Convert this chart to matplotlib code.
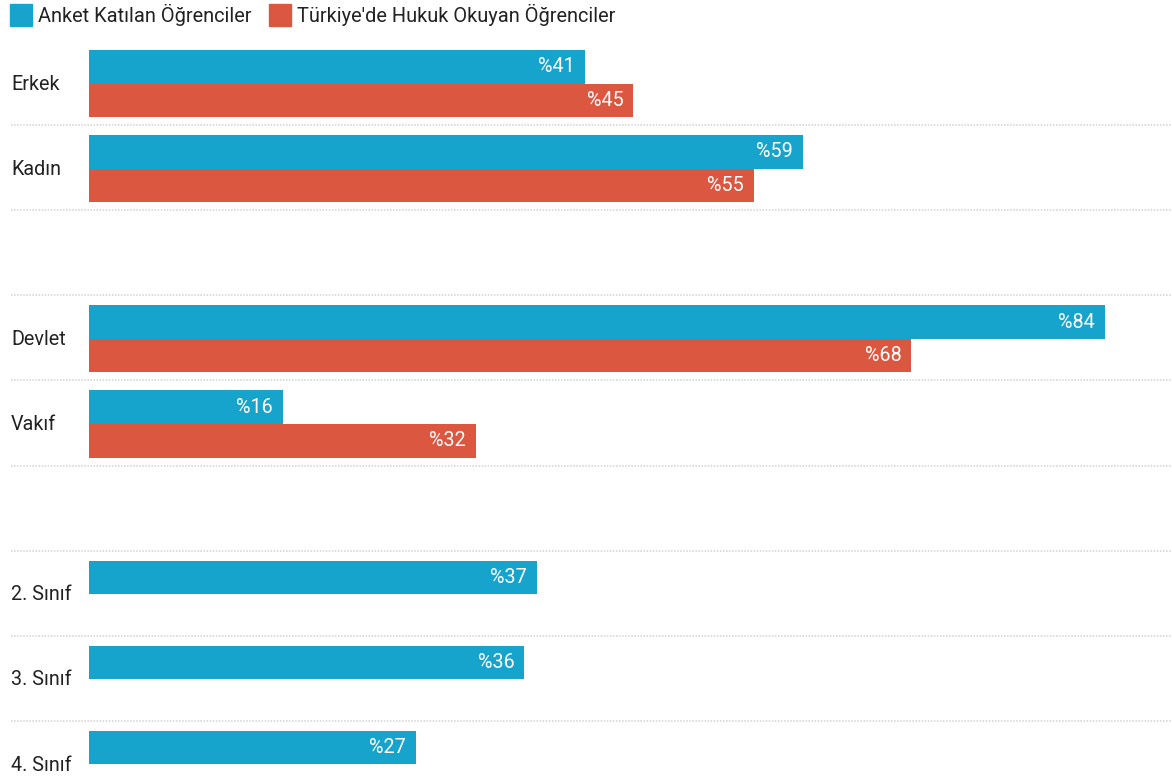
import matplotlib.pyplot as plt
from matplotlib.patches import Rectangle

plt.rcParams['font.family'] = ['Roboto', 'DejaVu Sans']

# rows, "" marks an empty spacer row
categories = ["Erkek", "Kadın", "", "Devlet", "Vakıf", "", "2. Sınıf", "3. Sınıf", "4. Sınıf"]
anket = [41, 59, None, 84, 16, None, 37, 36, 27]
turkiye = [45, 55, None, 68, 32, None, None, None, None]
series_names = ["Anket Katılan Öğrenciler", "Türkiye'de Hukuk Okuyan Öğrenciler"]

BLUE = '#16a3cc'
RED = '#dc5740'
W, H = 1172, 779
PX_PER_PCT = 12.095
X0 = 89          # pixel where bars start
ROW_H = 85.1
TOP = 40         # pixel top of first row

fig = plt.figure(figsize=(W / 100, H / 100), dpi=100)
ax = fig.add_axes([0, 0, 1, 1])
ax.set_xlim(-X0 / PX_PER_PCT, (W - X0) / PX_PER_PCT)
ax.set_ylim((H - TOP) / ROW_H, -TOP / ROW_H)
ax.axis('off')

bar_h = 0.395
for i, cat in enumerate(categories):
    if anket[i] is not None:
        ax.barh(i + 0.117 + bar_h / 2, anket[i], height=bar_h, color=BLUE)
        ax.text(anket[i] - 10 / PX_PER_PCT, i + 0.117 + bar_h / 2, f"%{anket[i]}",
                color='white', ha='right', va='center', fontsize=14.2)
    if turkiye[i] is not None:
        ax.barh(i + 0.117 + bar_h * 1.5, turkiye[i], height=bar_h, color=RED)
        ax.text(turkiye[i] - 10 / PX_PER_PCT, i + 0.117 + bar_h * 1.5, f"%{turkiye[i]}",
                color='white', ha='right', va='center', fontsize=14.2)
    if cat:
        ax.text(-78 / PX_PER_PCT, i + 0.52, cat, ha='left', va='center',
                fontsize=14.2, color='#222222')

# dotted separators between rows
for i in range(1, len(categories)):
    ax.axhline(i, xmin=11 / W, xmax=1, color='#d2d2d2', lw=1.1,
               linestyle=(0, (1, 1)))

# legend drawn at the top
legend_x = [10, 269]
for name, color, lx in zip(series_names, [BLUE, RED], legend_x):
    fig.patches.append(Rectangle((lx / W, 1 - 26 / H), 22 / W, 22 / H,
                                 transform=fig.transFigure, color=color))
    fig.text((lx + 28) / W, 1 - 15 / H, name, ha='left', va='center',
             fontsize=14.4, color='#222222')

fig.savefig('out.png', dpi=100)
